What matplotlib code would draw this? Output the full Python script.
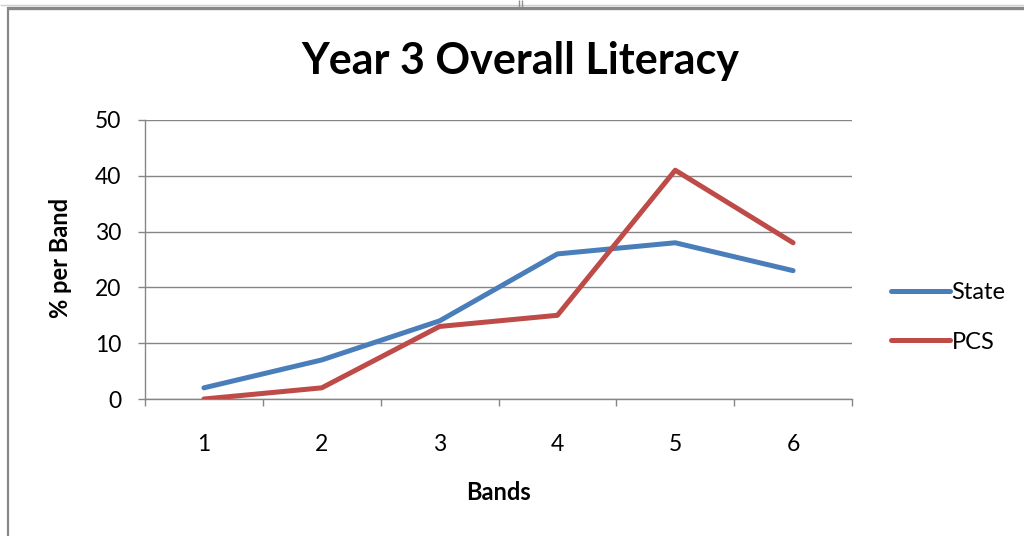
import matplotlib
matplotlib.use("Agg")
import matplotlib.pyplot as plt
from matplotlib.lines import Line2D

bands = [1, 2, 3, 4, 5, 6]
state = [2, 7, 14, 26, 28, 23]
pcs = [0, 2, 13, 15, 41, 28]
y_ticks = [0, 10, 20, 30, 40, 50]

plt.rcParams['font.family'] = ['Lato', 'DejaVu Sans']

W, H = 1024, 536
fig = plt.figure(figsize=(W / 100, H / 100), dpi=100)
fig.patch.set_facecolor('white')

# page frame lines around the chart object
def px_line(x0, y0, x1, y1, color, lw):
    fig.add_artist(Line2D([x0 / W, x1 / W], [1 - y0 / H, 1 - y1 / H],
                          transform=fig.transFigure, color=color, lw=lw,
                          solid_capstyle='butt'))

px_line(0, 4.5, 1024, 4.5, '#d0d0d0', 1.0)
px_line(7, 7.5, 1024, 7.5, '#888888', 2.4)
px_line(7.5, 7, 7.5, 536, '#888888', 1.6)
px_line(518.5, 0, 518.5, 6.5, '#909090', 1.0)
px_line(521.5, 0, 521.5, 6.5, '#909090', 1.0)

left, right = 145 / W, 852 / W
bottom, top = 1 - 399 / H, 1 - 120 / H
ax = fig.add_axes([left, bottom, right - left, top - bottom])

blue = '#4a7ebb'
red = '#be4b48'
ax.plot(bands, state, color=blue, lw=3.6, solid_capstyle='round',
        solid_joinstyle='round', label='State', zorder=3)
ax.plot(bands, pcs, color=red, lw=3.6, solid_capstyle='round',
        solid_joinstyle='round', label='PCS', zorder=3)

ax.set_xlim(0.5, 6.5)
ax.set_ylim(0, 50)

grid_c = '#868686'
ax.set_yticks(y_ticks)
ax.yaxis.grid(True, color=grid_c, lw=1.0)
ax.set_axisbelow(True)

# category boundaries carry the tick marks; labels sit at the category centres
ax.set_xticks([b - 0.5 for b in bands] + [bands[-1] + 0.5])
ax.set_xticklabels([])
ax.set_xticks(bands, minor=True)
ax.set_xticklabels([str(b) for b in bands], minor=True)
ax.tick_params(axis='x', which='major', direction='out', length=5, width=1, color=grid_c)
ax.tick_params(axis='x', which='minor', length=0, pad=25, labelsize=16.5)
ax.tick_params(axis='y', direction='out', length=5, width=1, color=grid_c,
               pad=12, labelsize=16.5)

for side in ['top', 'right']:
    ax.spines[side].set_visible(False)
for side in ['left', 'bottom']:
    ax.spines[side].set_color(grid_c)
    ax.spines[side].set_linewidth(1.0)

fig.text(520 / W, 1 - 61 / H, 'Year 3 Overall Literacy', ha='center', va='center',
         fontsize=31, fontweight='bold')
fig.text(60 / W, 1 - 258 / H, '% per Band', ha='center', va='center',
         rotation=90, fontsize=17, fontweight='bold')
fig.text(498 / W, 1 - 493 / H, 'Bands', ha='center', va='center',
         fontsize=17, fontweight='bold')

leg = fig.legend(loc='center left', bbox_to_anchor=(882 / W, 1 - 317.5 / H),
                 frameon=False, fontsize=17, handlelength=2.5, handletextpad=0.05,
                 labelspacing=1.2, borderaxespad=0)

fig.savefig('out.png', dpi=100, facecolor='white')
